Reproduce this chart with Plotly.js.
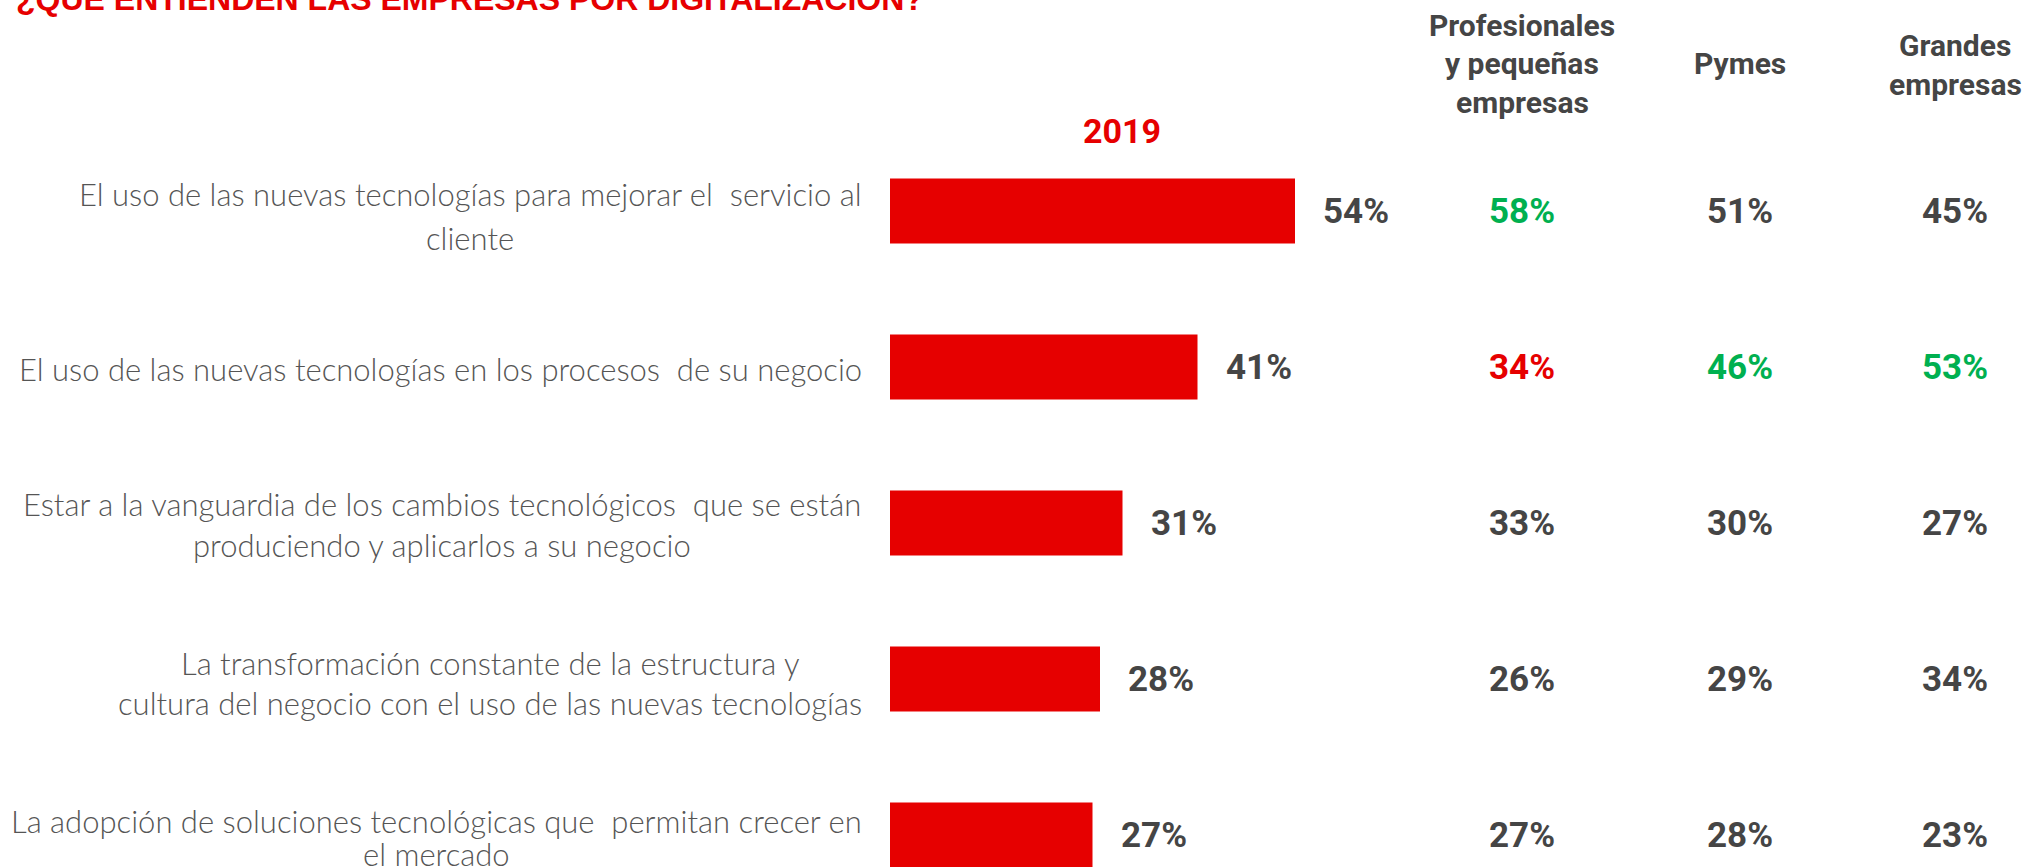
<!DOCTYPE html>
<html>
<head>
<meta charset="utf-8">
<script src="https://cdn.plot.ly/plotly-3.0.1.min.js"></script>
<style>
  html, body { margin: 0; padding: 0; background: #ffffff; }
  #chart { width: 2031px; height: 867px; }
</style>
</head>
<body>
<div id="chart"></div>
<script>
// Survey: what companies understand by "digitalización"
const chartTitle = "¿QUÉ ENTIENDEN LAS EMPRESAS POR DIGITALIZACIÓN?";
const yearLabel = "2019";

const categories = [
  "El uso de las nuevas tecnologías para mejorar el\u00a0 servicio al<br>cliente",
  "El uso de las nuevas tecnologías en los procesos\u00a0 de su negocio",
  "Estar a la vanguardia de los cambios tecnológicos\u00a0 que se están<br>produciendo y aplicarlos a su negocio",
  "La transformación constante de la estructura y<br>cultura del negocio con el uso de las nuevas tecnologías",
  "La adopción de soluciones tecnológicas que\u00a0 permitan crecer en<br>el mercado"
];

// Overall share, 2019 (%)
const total2019 = [54, 41, 31, 28, 27];

// Breakdown by company size (%)
const segmentNames = ["Profesionales<br>y pequeñas<br>empresas", "Pymes", "Grandes<br>empresas"];
const profesionales = [58, 34, 33, 26, 27];
const pymes = [51, 46, 30, 29, 28];
const grandes = [45, 53, 27, 34, 23];

// Significance versus the total: "up" = above, "down" = below, "" = none
const profesionalesSig = ["up", "down", "", "", ""];
const pymesSig = ["", "up", "", "", ""];
const grandesSig = ["", "up", "", "", ""];

// ---- drawing ----
const W = 2031, H = 867;
const RED = "#e60000";
const GREEN = "#00b050";
const DARK = "#454545";
const LABEL = "#555555";
const toneColor = { up: GREEN, down: RED, "": DARK };

const barLeftPx = 890;
const pxPerUnit = 7.5;
const rowTop = 211, rowPitch = 156;

const pxX = p => p / W;
const pxY = p => 1 - p / H;

// y range so that row i sits at rowTop + i*rowPitch px
const yt = -rowTop / rowPitch;
const yb = yt + H / rowPitch;

const bodyFamily = "Lato, 'DejaVu Sans Condensed', sans-serif";
const bodySize = 31;
const boldFont = "Roboto, 'Open Sans', 'Liberation Sans', sans-serif";

// text width helper, used to centre the lines of a label inside a right-aligned block
const measureCtx = document.createElement("canvas").getContext("2d");
measureCtx.font = "300 " + bodySize + "px Lato, 'DejaVu Sans Condensed', sans-serif";
const textWidth = s => measureCtx.measureText(s.replace(/\u00a0/g, " ")).width;

const annotations = [];

// Title (partly above the top edge)
annotations.push({
  text: chartTitle, xref: "paper", yref: "paper",
  x: pxX(14), y: pxY(-1), xanchor: "left", yanchor: "middle",
  showarrow: false, font: { family: "'Liberation Sans', Arial, sans-serif", size: 32, color: RED, weight: 700 }
});

// Year heading above the bars
annotations.push({
  text: yearLabel, xref: "paper", yref: "paper",
  x: pxX(1122), y: pxY(131), xanchor: "center", yanchor: "middle",
  showarrow: false, font: { family: boldFont, size: 34, color: RED, weight: 700 }
});

// Segment column headers, one annotation per line
const colCenters = [1522, 1740, 1955];
const headerFirstLine = [26, 63, 46];
const headerGap = 38;
segmentNames.forEach((name, c) => {
  name.split("<br>").forEach((line, k) => {
    annotations.push({
      text: line, xref: "paper", yref: "paper",
      x: pxX(colCenters[c]), y: pxY(headerFirstLine[c] + k * headerGap),
      xanchor: "center", yanchor: "middle", showarrow: false,
      font: { family: boldFont, size: 30, color: DARK, weight: 700 }
    });
  });
});

// Row labels on the left: block right edge at labelRight, lines centred within the block
const labelRight = 862;
const lineOffsets = [[-17, 27], [2], [-19, 22], [-16, 24], [-14, 19]];
categories.forEach((cat, i) => {
  const lines = cat.split("<br>");
  const blockW = Math.max(...lines.map(textWidth));
  const cx = labelRight - blockW / 2;
  lines.forEach((line, k) => {
    annotations.push({
      text: line, xref: "paper", yref: "y",
      x: pxX(cx), y: cat, xanchor: "center", yanchor: "middle",
      yshift: -lineOffsets[i][k], showarrow: false,
      font: { family: bodyFamily, size: bodySize, color: LABEL, weight: 300 }
    });
  });
});

// Value labels at the end of each bar
total2019.forEach((v, i) => {
  annotations.push({
    text: v + "%", xref: "x", yref: "y", x: v, y: categories[i],
    xanchor: "left", yanchor: "middle", xshift: 26, showarrow: false,
    font: { family: boldFont, size: 35, color: DARK, weight: 700 }
  });
});

// Segment values
const segValues = [profesionales, pymes, grandes];
const segSig = [profesionalesSig, pymesSig, grandesSig];
segValues.forEach((vals, c) => {
  vals.forEach((v, i) => {
    annotations.push({
      text: v + "%", xref: "paper", yref: "y", x: pxX(colCenters[c]), y: categories[i],
      xanchor: "center", yanchor: "middle", showarrow: false,
      font: { family: boldFont, size: 35, color: toneColor[segSig[c][i]], weight: 700 }
    });
  });
});

const trace = {
  type: "bar", orientation: "h",
  x: total2019, y: categories,
  width: 65 / rowPitch,
  marker: { color: RED, line: { width: 0 } },
  hoverinfo: "skip"
};

const layout = {
  width: W, height: H,
  margin: { l: 0, r: 0, t: 0, b: 0, pad: 0 },
  paper_bgcolor: "#ffffff", plot_bgcolor: "#ffffff",
  showlegend: false,
  xaxis: {
    domain: [barLeftPx / W, 1],
    range: [0, (W - barLeftPx) / pxPerUnit],
    showgrid: false, zeroline: false, showline: false, showticklabels: false, ticks: ""
  },
  yaxis: {
    type: "category",
    categoryorder: "array", categoryarray: categories,
    range: [yb, yt],
    showgrid: false, zeroline: false, showline: false, showticklabels: false, ticks: ""
  },
  annotations: annotations
};

Plotly.newPlot("chart", [trace], layout, { staticPlot: true, displayModeBar: false });
</script>
</body>
</html>
